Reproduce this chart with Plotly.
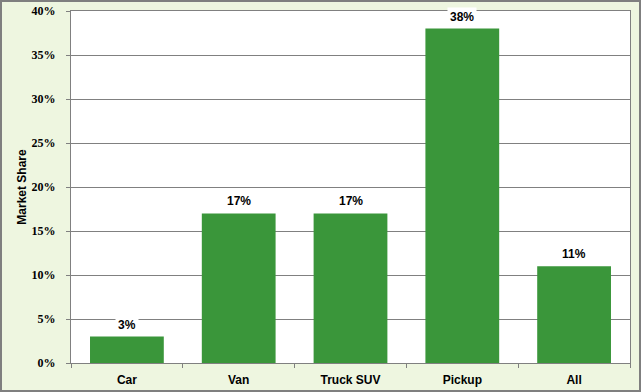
import plotly.graph_objects as go

categories = ["Car", "Van", "Truck SUV", "Pickup", "All"]
shares = [3, 17, 17, 38, 11]
labels = ["3%", "17%", "17%", "38%", "11%"]
ytickvals = [0, 5, 10, 15, 20, 25, 30, 35, 40]
yticktext = ["0%", "5%", "10%", "15%", "20%", "25%", "30%", "35%", "40%"]

W, H = 641, 392
L, R, T, B = 71, 11, 11, 29
pw, ph = W - L - R, H - T - B

fig = go.Figure(go.Bar(x=categories, y=shares, marker=dict(color="#3A963A", line=dict(width=0)),
                       hoverinfo="skip"))

for c, v, t in zip(categories, shares, labels):
    fig.add_annotation(x=c, y=v, text="<b>" + t + "</b>", showarrow=False, yshift=12,
                       yanchor="middle", bgcolor="white",
                       font=dict(family="Liberation Sans, Arial", size=12, color="black"),
                       borderpad=2)

fig.add_shape(type="rect", xref="paper", yref="paper",
              x0=(1 - L) / pw, x1=(W - 1 - L) / pw,
              y0=(T + ph - (H - 1)) / ph, y1=(T + ph - 1) / ph,
              line=dict(color="#7F7F7F", width=2), layer="below")

fig.update_layout(
    width=W, height=H,
    margin=dict(l=L, r=R, t=T, b=B, autoexpand=False),
    paper_bgcolor="#EEF6E0",
    plot_bgcolor="white",
    bargap=0.34,
    showlegend=False,
    xaxis=dict(showline=True, linecolor="#808080", linewidth=1, mirror=True, automargin=False,
               ticks="outside", tickson="boundaries", ticklen=4, tickcolor="#808080",
               ticklabelstandoff=6,
               tickvals=categories, ticktext=["<b>" + c + "</b>" for c in categories],
               tickfont=dict(family="Liberation Sans, Arial", size=12, color="black"),
               showgrid=False),
    yaxis=dict(range=[0, 40], tickvals=ytickvals, ticktext=["<b>" + t + "</b>" for t in yticktext],
               automargin=False,
               showline=True, linecolor="#808080", linewidth=1, mirror=True,
               ticks="outside", ticklen=4, tickcolor="#808080",
               ticklabelstandoff=8,
               gridcolor="#808080", gridwidth=1,
               tickfont=dict(family="Liberation Serif, Times New Roman", size=12, color="black"),
               title=dict(text="<b>Market Share</b>", standoff=2,
                          font=dict(family="Liberation Sans, Arial", size=12, color="black"))),
)

fig.write_html("out.html", config={"displayModeBar": False},
               post_script="document.body.style.margin='0';document.body.style.overflow='hidden';")
